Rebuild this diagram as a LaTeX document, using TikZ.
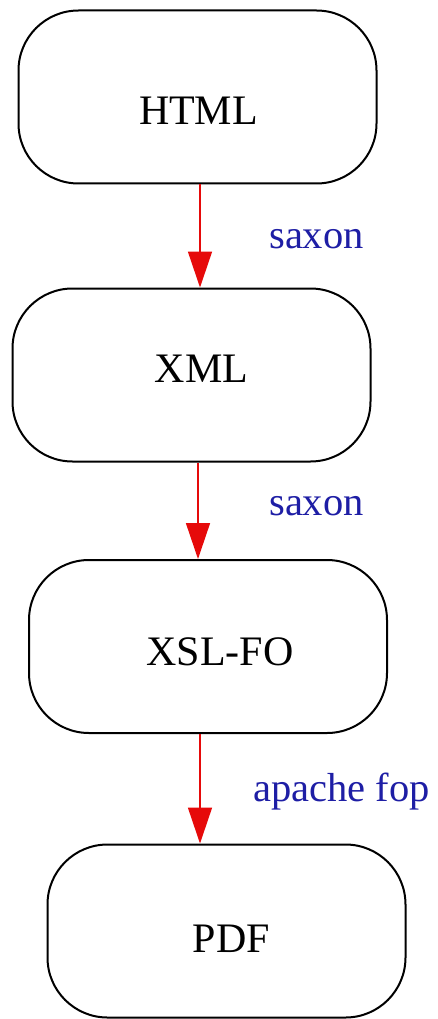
\documentclass[tikz,border=0pt]{standalone}
\usepackage{fontspec}
\setmainfont{Liberation Serif}
\usetikzlibrary{arrows.meta}
\definecolor{arrred}{RGB}{230,10,10}
\definecolor{lblblue}{RGB}{30,30,165}
\tikzset{
  box/.style={draw=black, line width=2pt, rounded corners=60pt, minimum width=358pt, minimum height=173pt, inner sep=0pt},
  boxtext/.style={anchor=base, inner sep=0pt, font=\fontsize{42}{46}\selectfont},
  lbl/.style={anchor=base, inner sep=0pt, text=lblblue, font=\fontsize{40.5}{44}\selectfont},
  arr/.style={draw=arrred, line width=1.5pt, -{Triangle[width=24pt,length=36pt]}, arrred}
}
\begin{document}
\begin{tikzpicture}[x=1pt,y=-1pt]
\useasboundingbox[fill=white] (0,0) rectangle (437,1019);
\node[box] (html) at (197.5,97) {};
\node[box] (xml) at (191.5,375) {};
\node[box] (xslfo) at (208,646.5) {};
\node[box] (pdf) at (226.5,931) {};
\node[boxtext] (thtml) at (198.5,125) {HTML};
\node[boxtext] (txml) at (201.5,382) {XML};
\node[boxtext] (txslfo) at (220,665) {XSL-FO};
\node[boxtext] (tpdf) at (231.5,952) {PDF};
\coordinate (ax1) at (200,0);
\coordinate (ax2) at (198,0);
\coordinate (ax3) at (200,0);
\draw[arr] (html.south -| ax1) -- (xml.north -| ax1);
\draw[arr] (xml.south -| ax2) -- (xslfo.north -| ax2);
\draw[arr] (xslfo.south -| ax3) -- (pdf.north -| ax3);
\node[lbl] (l1) at (316.5,248) {saxon};
\node[lbl] (l2) at (316.5,515) {saxon};
\node[lbl] (l3) at (341.5,801) {apache fop};
\end{tikzpicture}
\end{document}
